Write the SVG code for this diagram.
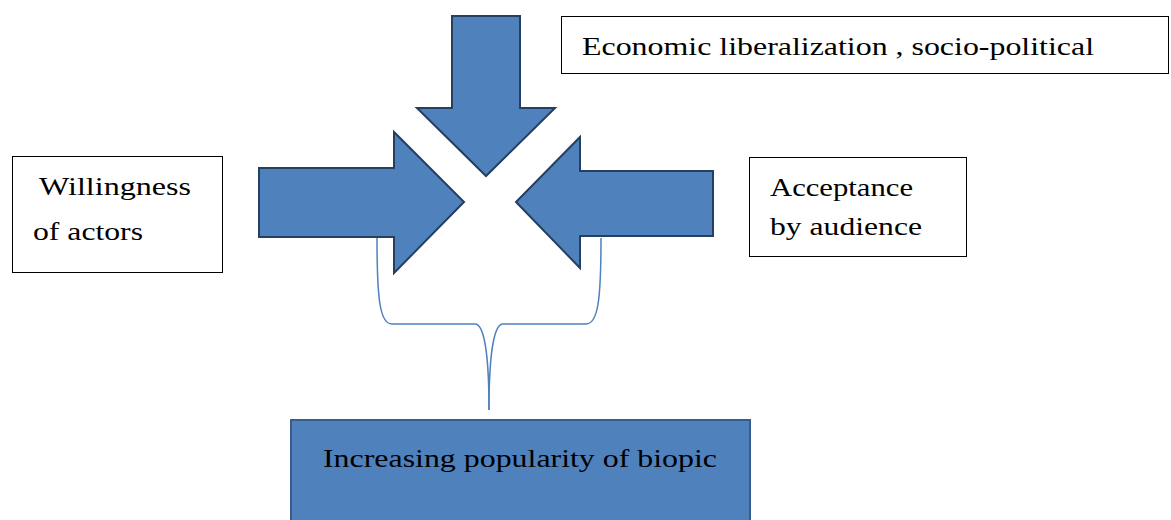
<svg xmlns="http://www.w3.org/2000/svg" width="1171" height="520" viewBox="0 0 1171 520">
  <style>
    .arrow { fill: #4F81BD; stroke: #243F60; stroke-width: 2; stroke-linejoin: miter; }
    .box { fill: #FFFFFF; stroke: #000000; stroke-width: 1; }
    .label { font-family: 'Liberation Serif', 'DejaVu Serif', serif; font-size: 26px; fill: #000000; }
    .brace { fill: none; stroke: #4F81BD; stroke-width: 1.5; }
  </style>
  <rect width="1171" height="520" fill="#FFFFFF"/>

  <!-- Converging arrows -->
  <g id="arrow-down">
    <polygon class="arrow" points="452,16 520,16 520,108 555,108 486,176 417,108 452,108"/>
  </g>
  <g id="arrow-right">
    <polygon class="arrow" points="259,168 394,168 394,132 464,202 394,273 394,237 259,237"/>
  </g>
  <g id="arrow-left">
    <polygon class="arrow" points="713,171 580,171 580,137 516,202 580,268 580,236 713,236"/>
  </g>

  <!-- Factor boxes -->
  <g id="node-economic">
    <rect class="box" x="561.5" y="16.5" width="607" height="57"/>
    <text class="label" x="582" y="55" textLength="512" lengthAdjust="spacingAndGlyphs">Economic liberalization , socio-political</text>
  </g>
  <g id="node-willingness">
    <rect class="box" x="12.5" y="156.5" width="210" height="116"/>
    <text class="label" x="39" y="195" textLength="152" lengthAdjust="spacingAndGlyphs">Willingness</text>
    <text class="label" x="33" y="240" textLength="110" lengthAdjust="spacingAndGlyphs">of actors</text>
  </g>
  <g id="node-acceptance">
    <rect class="box" x="749.5" y="157.5" width="217" height="99"/>
    <text class="label" x="770" y="196" textLength="143" lengthAdjust="spacingAndGlyphs">Acceptance</text>
    <text class="label" x="770" y="235" textLength="152" lengthAdjust="spacingAndGlyphs">by audience</text>
  </g>

  <!-- Brace gathering the factors -->
  <g id="connectors">
    <path class="brace" d="M377,238 C377,300 380,324 392,324 L475,324 C485,324 489,360 489,410"/>
    <path class="brace" d="M601,238 C601,300 598,324 586,324 L503,324 C493,324 489,360 489,410"/>
  </g>

  <!-- Result -->
  <g id="node-result">
    <rect x="291" y="420" width="459" height="110" fill="#4F81BD" stroke="#385D8A" stroke-width="2"/>
    <text class="label" x="323" y="467" textLength="394" lengthAdjust="spacingAndGlyphs">Increasing popularity of biopic</text>
  </g>
</svg>
